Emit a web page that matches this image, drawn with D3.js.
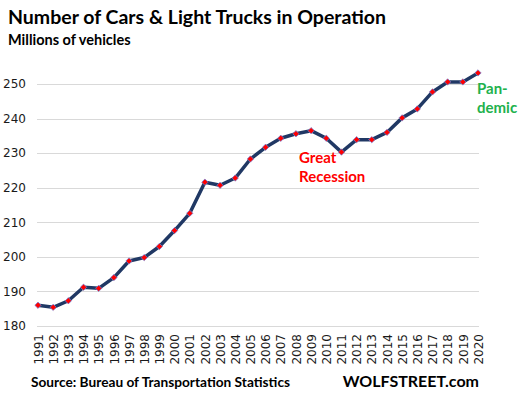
<!DOCTYPE html>
<html>
<head>
<meta charset="utf-8">
<script src="https://cdn.jsdelivr.net/npm/d3@7"></script>
<style>
  body { margin: 0; background: #fff; }
  svg { display: block; }
</style>
</head>
<body>
<div id="vis"></div>
<script>
const years = [
  '1991', '1992', '1993', '1994', '1995', '1996', '1997', '1998', '1999', '2000',
  '2001', '2002', '2003', '2004', '2005', '2006', '2007', '2008', '2009', '2010',
  '2011', '2012', '2013', '2014', '2015', '2016', '2017', '2018', '2019', '2020'
];
const vehicles = [
  186.0, 185.4, 187.3, 191.2, 190.9, 194.0, 198.8, 199.8, 203.0, 207.6,
  212.6, 221.6, 220.7, 222.8, 228.3, 231.7, 234.3, 235.6, 236.5, 234.3,
  230.3, 233.9, 233.9, 236.0, 240.2, 242.8, 247.7, 250.6, 250.6, 253.2
];
const yTicks = [180, 190, 200, 210, 220, 230, 240, 250];

const width = 519;
const height = 398;
const margin = { top: 84, bottom: 72, left: 38, right: 41 };

const svg = d3.select("#vis")
  .append("svg")
  .attr("width", width)
  .attr("height", height);

// scales
const x = d3.scalePoint()
  .domain(years)
  .range([margin.left, width - margin.right]);
const y = d3.scaleLinear()
  .domain([180, 250])
  .range([height - margin.bottom, margin.top]);

// gridlines
svg.append('g')
  .selectAll('line')
  .data(yTicks)
  .join('line')
  .attr('x1', margin.left - 1)
  .attr('x2', width - margin.right + 1)
  .attr('y1', d => Math.round(y(d)) + 0.5)
  .attr('y2', d => Math.round(y(d)) + 0.5)
  .attr('stroke', '#d9d9d9')
  .attr('stroke-width', 1);

// y axis labels
const yAxis = svg.append('g')
  .attr('transform', 'translate(' + (margin.left - 12) + ',0)')
  .call(d3.axisLeft(y).tickValues(yTicks).tickSize(0).tickPadding(0));
yAxis.select('.domain').remove();
yAxis.selectAll('text')
  .attr('font-family', 'DejaVu Sans')
  .attr('font-size', 12)
  .attr('fill', '#1a1a1a');

// x axis labels (rotated)
const xAxis = svg.append('g')
  .attr('transform', 'translate(0,' + (height - margin.bottom + 8) + ')')
  .call(d3.axisBottom(x).tickSize(0).tickPadding(0));
xAxis.select('.domain').remove();
xAxis.selectAll('text')
  .attr('font-family', 'DejaVu Sans')
  .attr('font-size', 12)
  .attr('fill', '#1a1a1a')
  .attr('text-anchor', 'end')
  .attr('dy', '0.35em')
  .attr('transform', 'rotate(-90)');

// the line
const line = d3.line()
  .x((d, i) => x(years[i]))
  .y(d => y(d));

svg.append('path')
  .datum(vehicles)
  .attr('fill', 'none')
  .attr('stroke', '#203864')
  .attr('stroke-width', 3.5)
  .attr('stroke-linejoin', 'round')
  .attr('d', line);

// markers: small red diamonds (rotated squares)
svg.append('g')
  .selectAll('path')
  .data(vehicles)
  .join('path')
  .attr('transform', (d, i) => 'translate(' + x(years[i]) + ',' + y(d) + ') rotate(45)')
  .attr('d', d3.symbol().type(d3.symbolSquare).size(20))
  .attr('fill', '#ff0000')
  .attr('stroke', '#7080d8')
  .attr('stroke-width', 0.7);

// titles
svg.append('text')
  .attr('x', 8).attr('y', 24)
  .attr('font-family', 'Lato')
  .attr('font-weight', 'bold')
  .attr('font-size', 19.5)
  .attr('fill', '#000')
  .text('Number of Cars & Light Trucks in Operation');

svg.append('text')
  .attr('x', 8).attr('y', 45)
  .attr('font-family', 'Lato')
  .attr('font-weight', 'bold')
  .attr('font-size', 14.5)
  .attr('fill', '#000')
  .text('Millions of vehicles');

// annotations
svg.append('text')
  .attr('font-family', 'Lato')
  .attr('font-weight', 'bold')
  .attr('font-size', 15)
  .attr('fill', '#ff0000')
  .html('<tspan x="299" y="163">Great</tspan><tspan x="299" y="182">Recession</tspan>');

svg.append('text')
  .attr('font-family', 'Lato')
  .attr('font-weight', 'bold')
  .attr('font-size', 15)
  .attr('fill', '#22b14c')
  .html('<tspan x="477" y="94">Pan-</tspan><tspan x="477" y="113">demic</tspan>');

// footer
svg.append('text')
  .attr('x', 31).attr('y', 387)
  .attr('font-family', 'Lato')
  .attr('font-weight', 'bold')
  .attr('font-size', 13.7)
  .attr('fill', '#000')
  .text('Source: Bureau of Transportation Statistics');

svg.append('text')
  .attr('x', 479).attr('y', 387)
  .attr('text-anchor', 'end')
  .attr('font-family', 'Lato')
  .attr('font-weight', 'bold')
  .attr('font-size', 16)
  .attr('fill', '#000')
  .text('WOLFSTREET.com');
</script>
</body>
</html>
